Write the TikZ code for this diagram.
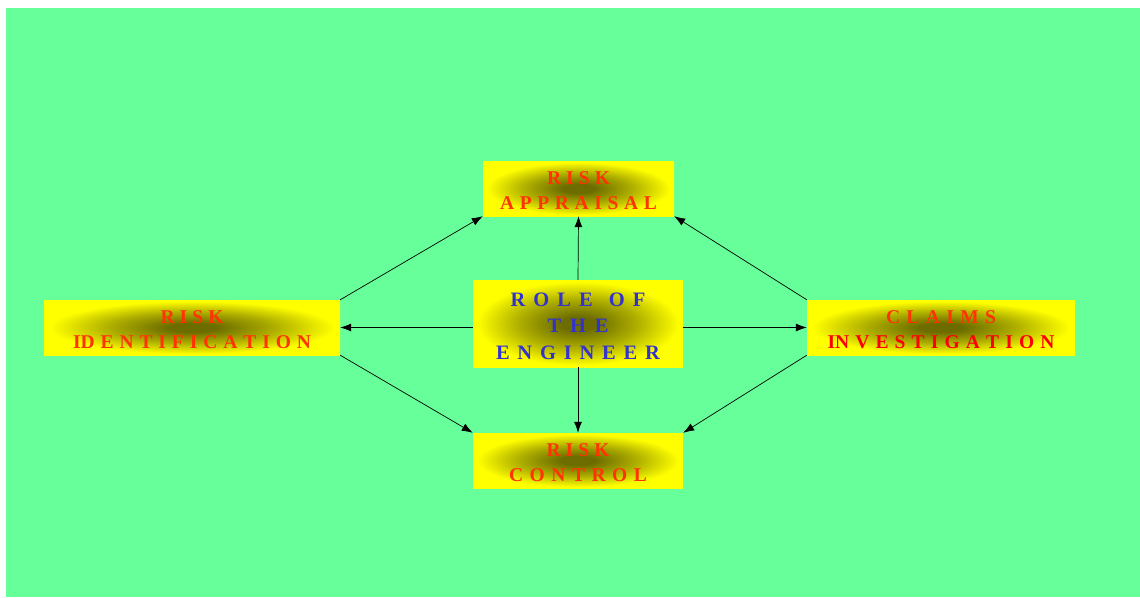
\documentclass[tikz,border=0pt]{standalone}
\usepackage{fontspec}
\setmainfont{Liberation Serif}
\usetikzlibrary{arrows.meta}

\definecolor{bggreen}{HTML}{66FF99}
\definecolor{boxyellow}{HTML}{FFFF00}
\definecolor{boxdark}{RGB}{108,108,0}
\colorlet{boxmid}{boxdark!55!boxyellow}
\definecolor{labelred}{HTML}{FF3300}
\definecolor{deepred}{HTML}{FF0000}
\definecolor{labelblue}{HTML}{3333CC}

% dark core fading out to yellow towards the box edges
\pgfdeclareradialshading{glow}{\pgfpointorigin}{%
  color(0bp)=(boxdark); color(4bp)=(boxdark); color(14bp)=(boxmid);
  color(24bp)=(boxyellow); color(50bp)=(boxyellow)}

% one line of letter-spaced text, spread to a given width
\newcommand\spreadline[2]{\makebox[#1][s]{#2}}
% invisible strut that lowers a text block slightly inside its box
\newcommand\toppad[1]{\rule{0pt}{#1}}

\tikzset{
  panel/.style={rectangle, shade, shading=glow, inner sep=0pt,
    align=center, text=labelred,
    font=\bfseries\fontsize{19.5}{25}\selectfont},
  link/.style={draw=black, line width=0.7pt, -{Latex[length=11pt,width=8pt]}}
}

\begin{document}
\begin{tikzpicture}[x=1pt,y=-1pt]
  \useasboundingbox (0,0) rectangle (1140,597);
  \fill[bggreen] (6,8) rectangle (1140,597);

  \node[panel, minimum width=191pt, minimum height=55pt] (app) at (578.5,188.5)
    {\toppad{17pt}\spreadline{63pt}{R I S K}\\\spreadline{157pt}{A P P R A I S A L}};
  \node[panel, minimum width=210pt, minimum height=87pt, text=labelblue,
        font=\bfseries\fontsize{20.5}{26.5}\selectfont] (eng) at (578,323.5)
    {\toppad{18.5pt}\spreadline{135pt}{R O L E \ O F}\\\spreadline{61pt}{T H E}\\\spreadline{164pt}{E N G I N E E R}};
  \node[panel, minimum width=296pt, minimum height=55pt] (ident) at (192,327.5)
    {\toppad{17pt}\spreadline{63pt}{R I S K}\\\spreadline{238pt}{ID E N T I F I C A T I O N}};
  \node[panel, minimum width=268pt, minimum height=55pt] (claims) at (941,327.5)
    {\toppad{17pt}\spreadline{110pt}{C L A I M S}\\\textcolor{deepred}{\spreadline{227pt}{IN V E S T I G A T I O N}}};
  \node[panel, minimum width=210pt, minimum height=55pt] (ctrl) at (578,460.5)
    {\toppad{17pt}\spreadline{63pt}{R I S K}\\\spreadline{138pt}{C O N T R O L}};

  \draw[link] (eng.north) -- (app.south);
  \draw[link] (eng.west |- ident.east) -- (ident.east);
  \draw[link] (eng.east |- claims.west) -- (claims.west);
  \draw[link] (eng.south) -- (ctrl.north);
  \draw[link] (ident.north east) -- (app.south west);
  \draw[link] (ident.south east) -- (ctrl.north west);
  \draw[link] (claims.north west) -- (app.south east);
  \draw[link] (claims.south west) -- (ctrl.north east);
\end{tikzpicture}
\end{document}
